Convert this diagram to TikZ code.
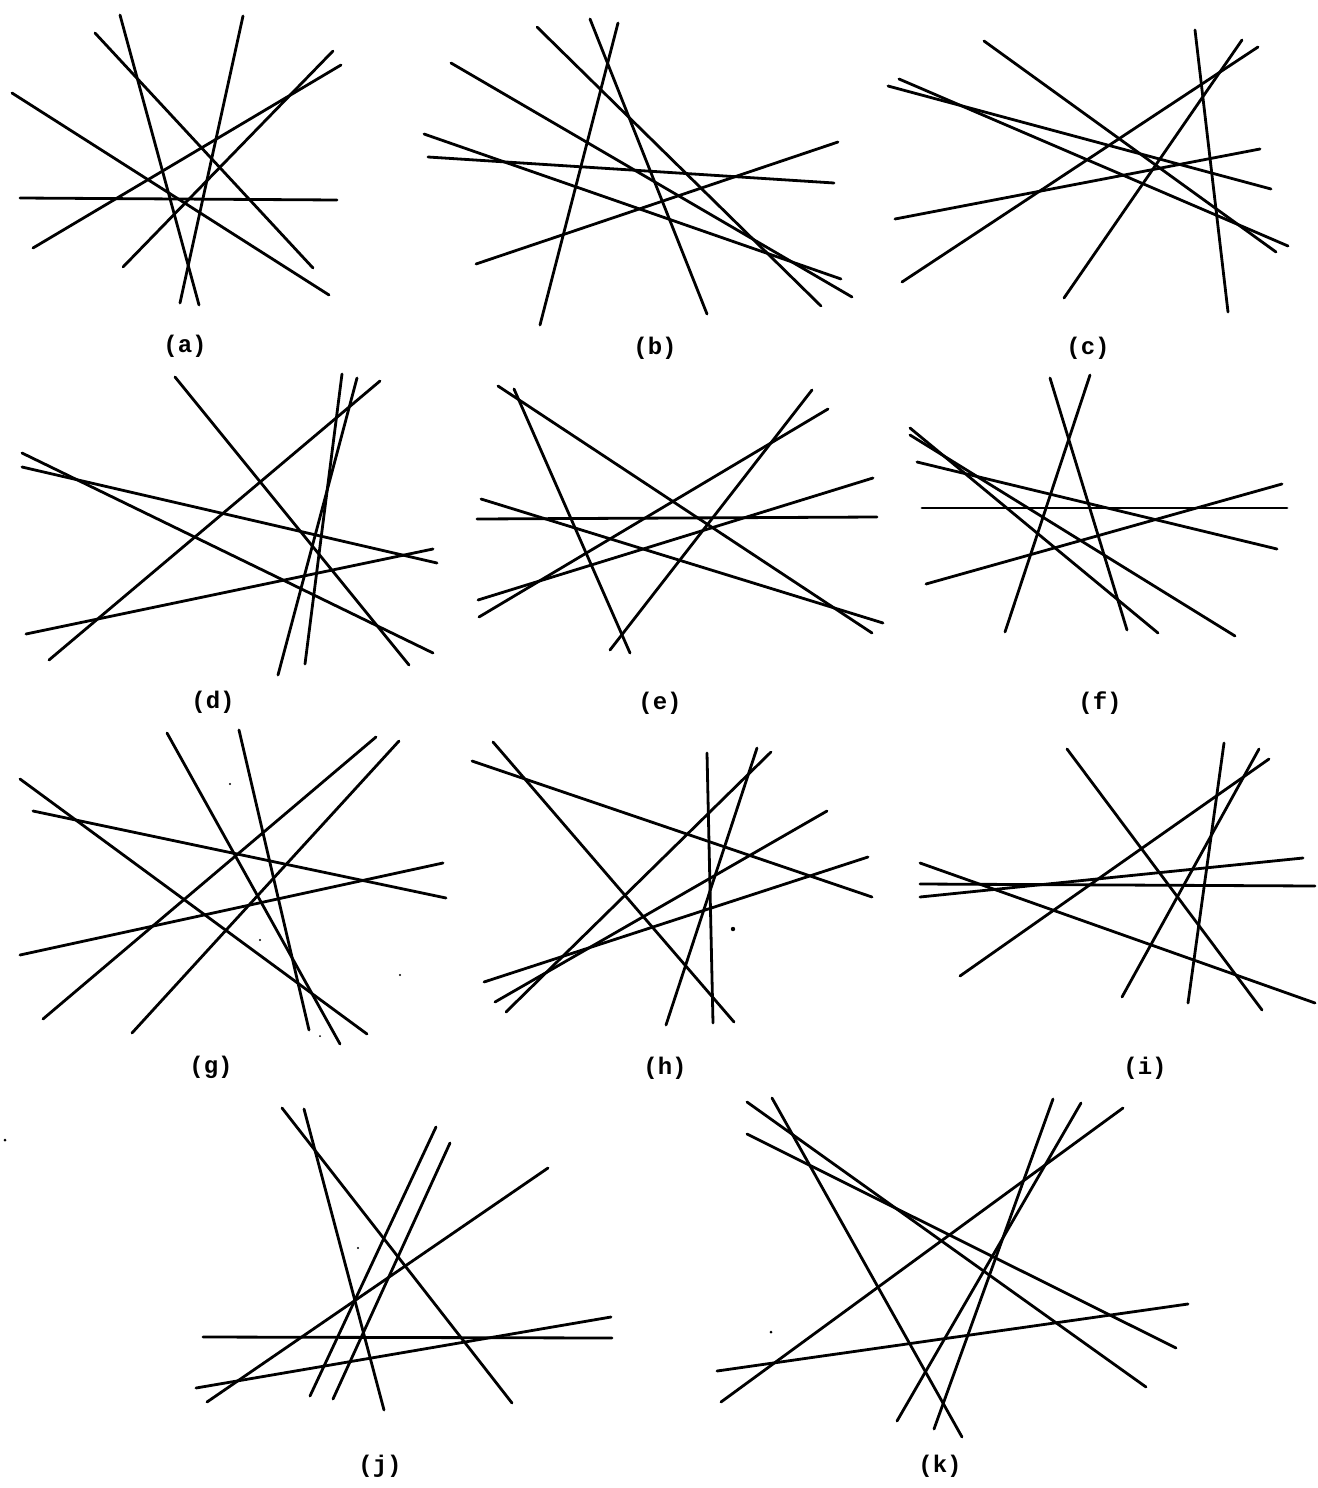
\documentclass[tikz,border=0pt]{standalone}
\usepackage{fontspec}
\newfontfamily\labelfont{Liberation Mono}
\begin{document}
\begin{tikzpicture}[x=1pt,y=-1pt,
  ln/.style={line width=2.8pt,line cap=round,black},
  lab/.style={font=\labelfont\bfseries\fontsize{24}{24}\selectfont,inner sep=0pt},
  speck/.style={fill=black,draw=none}]
\useasboundingbox (0,0) rectangle (1317,1488);
% (a)
\draw[ln] (120,15) -- (199,305);
\draw[ln] (243,16) -- (180,303);
\draw[ln] (95,33) -- (313,268);
\draw[ln] (12,93) -- (329,295);
\draw[ln] (20,198) -- (337,200);
\draw[ln] (33,248) -- (341,65);
\draw[ln] (123,267) -- (333,51);
\node[lab] (la) at (185,346) {(a)};
% (b)
\draw[ln] (537,27) -- (821,306);
\draw[ln] (590,19) -- (707,314);
\draw[ln] (618,23) -- (540,325);
\draw[ln] (451,63) -- (852,297);
\draw[ln] (424,134) -- (841,279);
\draw[ln] (428,157) -- (834,183);
\draw[ln] (476,264) -- (838,142);
\node[lab] (lb) at (655,348) {(b)};
% (c)
\draw[ln] (1195,30) -- (1228,312);
\draw[ln] (1242,40) -- (1064,298);
\draw[ln] (1258,47) -- (902,282);
\draw[ln] (984,41) -- (1276,252);
\draw[ln] (899,79) -- (1288,246);
\draw[ln] (888,86) -- (1271,189);
\draw[ln] (895,219) -- (1260,149);
\node[lab] (lc) at (1088,348) {(c)};
% (d)
\draw[ln] (175,377) -- (409,665);
\draw[ln] (342,374) -- (305,664);
\draw[ln] (357,378) -- (278,675);
\draw[ln] (380,381) -- (49,660);
\draw[ln] (22,453) -- (433,653);
\draw[ln] (22,467) -- (437,563);
\draw[ln] (26,634) -- (433,549);
\node[lab] (ld) at (213,702) {(d)};
% (e)
\draw[ln] (498,386) -- (872,633);
\draw[ln] (514,389) -- (630,653);
\draw[ln] (812,390) -- (610,650);
\draw[ln] (828,409) -- (479,617);
\draw[ln] (873,478) -- (478,600);
\draw[ln] (477,519) -- (877,517);
\draw[ln] (481,499) -- (883,623);
\node[lab] (le) at (660,703) {(e)};
% (f)
\draw[ln] (1050,378) -- (1127,630);
\draw[ln] (1090,375) -- (1005,632);
\draw[ln] (910,428) -- (1158,633);
\draw[ln] (910,435) -- (1235,636);
\draw[ln] (917,462) -- (1277,549);
\draw[ln] (922,508) -- (1287,508);
\draw[ln] (926,584) -- (1282,484);
\node[lab] (lf) at (1100,703) {(f)};
% (g)
\draw[ln] (167,733) -- (340,1044);
\draw[ln] (239,730) -- (309,1030);
\draw[ln] (20,779) -- (367,1034);
\draw[ln] (33,811) -- (446,898);
\draw[ln] (20,955) -- (443,863);
\draw[ln] (43,1019) -- (376,737);
\draw[ln] (132,1033) -- (399,741);
\fill[speck] (230,784) circle (1.2);
\fill[speck] (260,940) circle (1.2);
\fill[speck] (400,975) circle (1.2);
\fill[speck] (320,1036) circle (1);
\node[lab] (lg) at (211,1067) {(g)};
% (h)
\draw[ln] (493,742) -- (734,1022);
\draw[ln] (472,761) -- (872,897);
\draw[ln] (707,753) -- (713,1023);
\draw[ln] (757,748) -- (666,1025);
\draw[ln] (771,752) -- (506,1012);
\draw[ln] (827,811) -- (495,1002);
\draw[ln] (868,857) -- (484,982);
\fill[speck] (733,929) circle (2.2);
\node[lab] (lh) at (665,1068) {(h)};
% (i)
\draw[ln] (1067,749) -- (1262,1010);
\draw[ln] (1224,743) -- (1188,1003);
\draw[ln] (1259,749) -- (1122,997);
\draw[ln] (1269,759) -- (960,976);
\draw[ln] (920,884) -- (1315,886);
\draw[ln] (920,897) -- (1303,858);
\draw[ln] (920,863) -- (1315,1003);
\node[lab] (li) at (1145,1068) {(i)};
% (j)
\draw[ln] (282,1108) -- (512,1403);
\draw[ln] (304,1109) -- (384,1410);
\draw[ln] (436,1127) -- (310,1396);
\draw[ln] (450,1143) -- (333,1399);
\draw[ln] (548,1168) -- (207,1402);
\draw[ln] (203,1337) -- (612,1338);
\draw[ln] (196,1388) -- (611,1317);
\fill[speck] (358,1248) circle (1.2);
\fill[speck] (5,1140) circle (1.5);
\node[lab] (lj) at (380,1466) {(j)};
% (k)
\draw[ln] (747,1102) -- (1146,1387);
\draw[ln] (772,1098) -- (962,1437);
\draw[ln] (747,1134) -- (1176,1348);
\draw[ln] (1053,1099) -- (934,1429);
\draw[ln] (1081,1103) -- (897,1421);
\draw[ln] (1123,1108) -- (721,1402);
\draw[ln] (717,1371) -- (1188,1304);
\fill[speck] (771,1332) circle (1.5);
\node[lab] (lk) at (940,1466) {(k)};
\end{tikzpicture}
\end{document}
